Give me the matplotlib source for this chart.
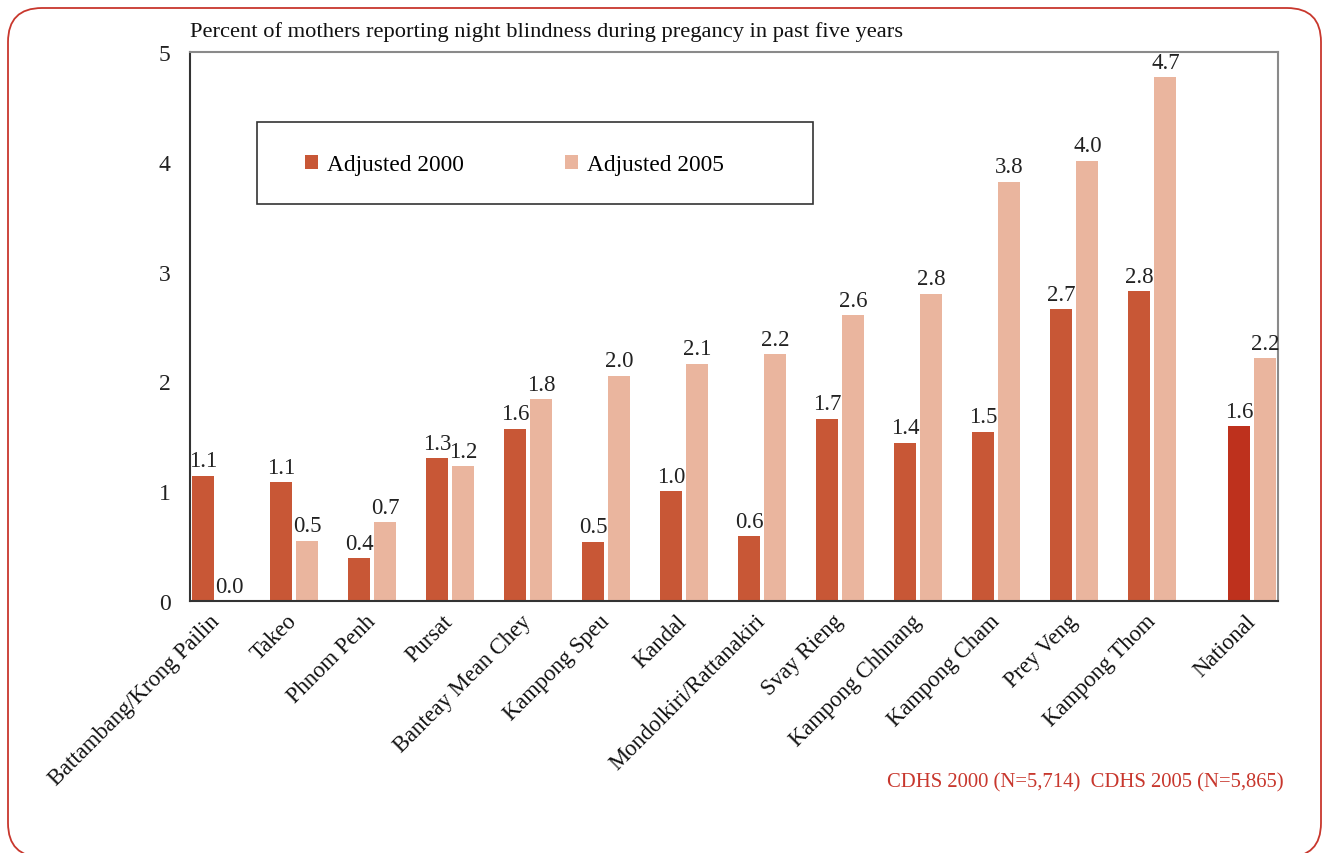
import matplotlib.pyplot as plt
import numpy as np
from matplotlib.patches import FancyBboxPatch, Rectangle

plt.rcParams['font.family'] = ['Liberation Serif', 'DejaVu Serif']

# data
provinces = ['Battambang/Krong Pailin', 'Takeo', 'Phnom Penh', 'Pursat', 'Banteay Mean Chey',
             'Kampong Speu', 'Kandal', 'Mondolkiri/Rattanakiri', 'Svay Rieng', 'Kampong Chhnang',
             'Kampong Cham', 'Prey Veng', 'Kampong Thom', 'National']
adj_2000 = [1.14, 1.08, 0.39, 1.30, 1.57, 0.54, 1.00, 0.59, 1.66, 1.44, 1.54, 2.66, 2.82, 1.59]
adj_2005 = [0.00, 0.55, 0.72, 1.23, 1.84, 2.05, 2.16, 2.25, 2.60, 2.80, 3.82, 4.01, 4.77, 2.21]
labels_2000 = ['1.1', '1.1', '0.4', '1.3', '1.6', '0.5', '1.0', '0.6', '1.7', '1.4', '1.5', '2.7', '2.8', '1.6']
labels_2005 = ['0.0', '0.5', '0.7', '1.2', '1.8', '2.0', '2.1', '2.2', '2.6', '2.8', '3.8', '4.0', '4.7', '2.2']

title = 'Percent of mothers reporting night blindness during pregancy in past five years'
source = 'CDHS 2000 (N=5,714)  CDHS 2005 (N=5,865)'

c2000 = '#C85736'
c2005 = '#EAB59E'
c_nat = '#BE311D'
red = '#C8372D'

fig = plt.figure(figsize=(13.22, 8.54), dpi=100)

# rounded red frame around the whole picture (pixel coords, y up)
bg = fig.add_axes([0, 0, 1, 1])
bg.set_xlim(0, 1322)
bg.set_ylim(0, 854)
bg.axis('off')
bg.add_patch(FancyBboxPatch((8, -4), 1313, 849, boxstyle='round,pad=0,rounding_size=34',
                            fill=False, edgecolor=red, linewidth=1.3, clip_on=False))

ax = fig.add_axes([0.1437, 0.2951, 0.823, 0.6429])

# group positions, national set a bit apart
x = np.arange(len(provinces), dtype=float)
x[-1] = 13.28
w = 0.282
off = 0.167

cols_2000 = [c2000] * (len(provinces) - 1) + [c_nat]
b1 = ax.bar(x - off, adj_2000, w, color=cols_2000, label='Adjusted 2000')
b2 = ax.bar(x + off, adj_2005, w, color=c2005, label='Adjusted 2005')

for xi, v, t in zip(x - off, adj_2000, labels_2000):
    ax.text(xi, v + 0.04, t, ha='center', va='bottom', fontsize=16.5, color='#222222')
for xi, v, t in zip(x + off, adj_2005, labels_2005):
    ax.text(xi, v + 0.04, t, ha='center', va='bottom', fontsize=16.5, color='#222222')

ax.set_xlim(-0.333, 13.61)
ax.set_ylim(0, 5)
ax.set_yticks([0, 1, 2, 3, 4, 5])
ax.set_yticklabels(['0', '1', '2', '3', '4', '5'], fontsize=17, color='#222222')
ax.set_xticks(x)
ax.set_xticklabels(provinces, rotation=45, ha='right', va='center', rotation_mode='anchor',
                   fontsize=16.3, color='#111111')
ax.tick_params(axis='both', length=0)
ax.tick_params(axis='y', pad=14)
ax.tick_params(axis='x', pad=12)

ax.spines['left'].set_color('#333333')
ax.spines['bottom'].set_color('#333333')
ax.spines['left'].set_linewidth(1.5)
ax.spines['bottom'].set_linewidth(1.5)
ax.spines['top'].set_color('#8a8a8a')
ax.spines['right'].set_color('#8a8a8a')
ax.spines['top'].set_linewidth(1.5)
ax.spines['right'].set_linewidth(1.5)

# legend box
ax.add_patch(Rectangle((0.0616, 0.723), 0.511, 0.1495, transform=ax.transAxes,
                       fill=False, edgecolor='#333333', linewidth=1.2, zorder=5))
ax.legend(handles=[b1[0], b2[0]], labels=['Adjusted 2000', 'Adjusted 2005'], ncol=2,
          loc='center left', bbox_to_anchor=(0.106, 0.795), frameon=False,
          fontsize=16.8, handlelength=0.55, handleheight=0.55, handletextpad=0.4,
          columnspacing=4.3, borderpad=0, borderaxespad=0)

fig.text(0.1437, 0.963, title, ha='left', va='center', fontsize=16.2, color='#111111')
fig.text(0.971, 0.083, source, ha='right', va='center', fontsize=14.9, color=red)

plt.savefig('out.png', dpi=100)
